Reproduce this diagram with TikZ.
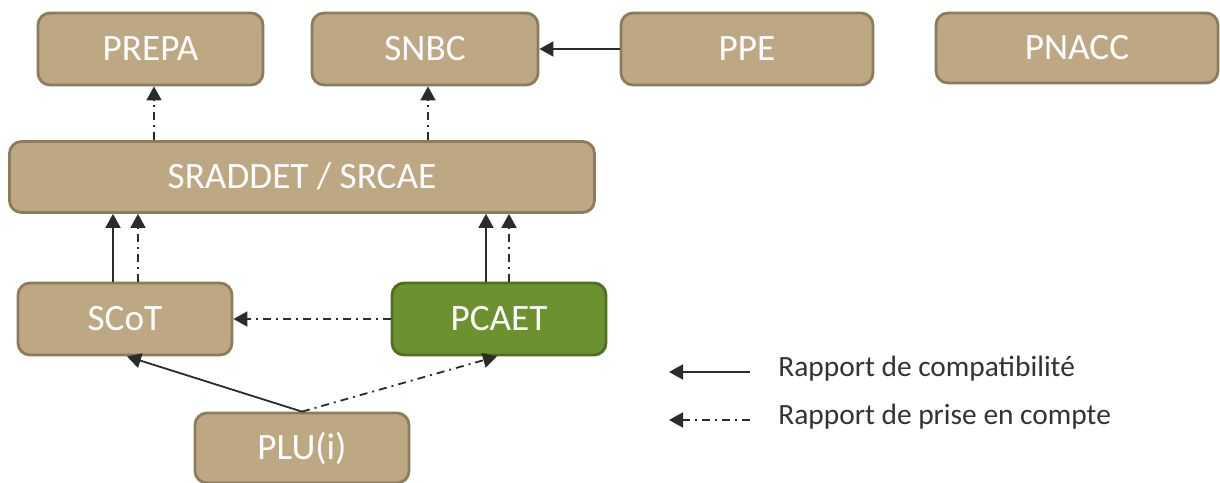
\documentclass[tikz,border=0pt]{standalone}
\usepackage{fontspec}
\setmainfont{Carlito}
\usetikzlibrary{arrows.meta}
\definecolor{tanfill}{HTML}{BEA884}
\definecolor{tanedge}{HTML}{8C7B5C}
\definecolor{greenfill}{HTML}{6B922E}
\definecolor{greenedge}{HTML}{4F6E22}
\definecolor{arrowcol}{HTML}{2B2B2B}
\tikzset{
  box/.style={draw=tanedge, fill=tanfill, line width=1.4pt, rounded corners=6pt,
    text=white, font=\fontsize{18.6}{20}\selectfont, inner sep=0pt, minimum height=36pt,
    text height=11pt, text depth=0pt},
  greenbox/.style={box, draw=greenedge, fill=greenfill},
  compat/.style={draw=arrowcol, line width=0.9pt, -{Triangle[width=7.5pt,length=7pt]}},
  ptc/.style={compat, dash pattern=on 4pt off 2.5pt on 1pt off 2.5pt},
  legtext/.style={anchor=base west, text=black!80, font=\fontsize{14.7}{16}\selectfont, inner sep=0pt}
}
\begin{document}
\begin{tikzpicture}[x=0.5pt,y=-0.5pt]
\useasboundingbox (0,0) rectangle (1220,482);
% nodes
\node[box, minimum width=112.5pt] (prepa) at (150.5,49) {PREPA};
\node[box, minimum width=113pt] (snbc) at (425,49) {SNBC};
\node[box, minimum width=126pt] (ppe) at (747,49) {PPE};
\node[box, minimum width=141pt, minimum height=35pt] (pnacc) at (1077,48) {PNACC};
\node[box, minimum width=292.5pt, minimum height=35.5pt] (sraddet) at (302,177) {SRADDET / SRCAE};
\node[box, minimum width=107pt] (scot) at (125,319) {SCoT};
\node[greenbox, minimum width=107pt] (pcaet) at (499,319) {PCAET};
\node[box, minimum width=107pt, minimum height=35pt] (plu) at (302,448) {PLU(i)};
% connectors
\draw[ptc] ([xshift=1.75pt]sraddet.north -| prepa.south) -- ([xshift=1.75pt]prepa.south);
\draw[ptc] ([xshift=1.5pt]sraddet.north -| snbc.south) -- ([xshift=1.5pt]snbc.south);
\draw[compat] (ppe.west) -- (snbc.east);
\draw[compat] ([xshift=-6pt]scot.north) -- ([xshift=-6pt]scot.north |- sraddet.south);
\draw[ptc] ([xshift=6.5pt]scot.north) -- ([xshift=6.5pt]scot.north |- sraddet.south);
\draw[compat] ([xshift=-6.5pt]pcaet.north) -- ([xshift=-6.5pt]pcaet.north |- sraddet.south);
\draw[ptc] ([xshift=5pt]pcaet.north) -- ([xshift=5pt]pcaet.north |- sraddet.south);
\draw[ptc] (pcaet.west) -- (scot.east);
\draw[compat] (plu.north) -- ([xshift=1pt]scot.south);
\draw[ptc] (plu.north) -- ([xshift=-1pt]pcaet.south);
% legend
\coordinate (l1s) at (750,372);
\coordinate (l1e) at (669,372);
\coordinate (l2s) at (750,420);
\coordinate (l2e) at (669,420);
\draw[compat] (l1s) -- (l1e);
\draw[ptc] (l2s) -- (l2e);
\node[legtext] (t1) at (778,376) {Rapport de compatibilité};
\node[legtext] (t2) at (778,424) {Rapport de prise en compte};
\end{tikzpicture}
\end{document}
